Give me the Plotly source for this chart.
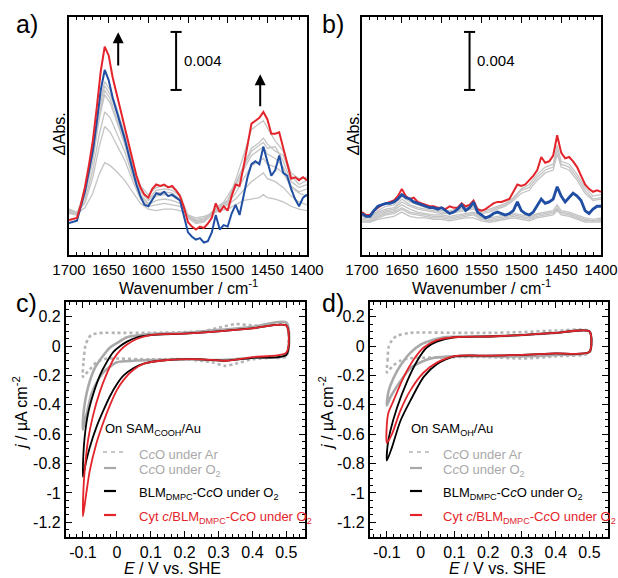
import numpy as np
import plotly.graph_objects as go

# ---------------- DATA ----------------
# Panel a) spectra (Delta Abs in units of 1e-3)
wn_a_fine = list(range(1700, 1399, -5))
red_a = [0.55, 0.6, 0.7, 1.6, 2.8, 4.3, 6.0, 8.3, 10.8, 12.5, 11.9, 10.4, 9.3, 8.2, 7.1, 5.9,
         4.7, 3.6, 2.8, 2.3, 2.1, 2.7, 3.0, 2.9, 3.0, 2.8, 2.9, 2.6, 2.2, 1.4, 0.4, 0.1,
         -0.1, 0.1, 0.0, 0.3, 0.7, 1.7, 1.1, 1.5, 1.2, 2.2, 3.0, 2.9, 4.2, 5.7, 7.2, 7.4,
         7.6, 8.0, 7.5, 6.5, 6.5, 6.6, 5.5, 4.5, 3.4, 3.5, 3.3, 3.5, 3.3]
blue_a = [0.35, 0.4, 0.5, 1.5, 2.5, 3.9, 5.3, 7.3, 9.5, 10.9, 10.2, 9.0, 8.1, 7.2, 6.2, 5.1,
          4.0, 3.0, 2.2, 1.6, 1.5, 2.0, 2.4, 2.3, 2.5, 2.2, 2.3, 2.1, 1.9, 0.8, -0.3, -0.6,
          -0.8, -0.7, -1.0, -0.9, -0.3, 0.9, -0.1, 0.2, 0.1, 1.0, 1.6, 0.9, 2.2, 3.5, 4.4,
          4.6, 4.4, 5.6, 4.6, 3.6, 4.0, 5.0, 3.8, 3.6, 2.7, 2.0, 1.5, 2.1, 2.3]
wn_a_gray = [1700, 1690, 1680, 1670, 1662, 1655, 1648, 1640, 1630, 1620, 1610, 1600, 1590,
             1580, 1570, 1560, 1550, 1540, 1530, 1520, 1510, 1500, 1490, 1480, 1470, 1460,
             1455, 1450, 1440, 1430, 1420, 1410, 1400]
gray_a = [
    [1.1, 0.9, 2.7, 5.5, 8.5, 10.1, 9.5, 8.3, 6.5, 4.4, 2.9, 2.3, 2.8, 2.9, 2.8, 2.3, 0.8, 0.4,
     0.5, 1.0, 1.5, 1.8, 3.3, 5.0, 6.8, 7.2, 7.4, 6.9, 6.0, 5.3, 3.8, 3.4, 3.5],
    [1.2, 1.0, 2.5, 5.2, 8.2, 9.8, 9.2, 8.0, 6.3, 4.3, 2.7, 2.0, 2.6, 2.7, 2.6, 2.2, 0.9, 0.5,
     0.6, 1.1, 1.6, 1.9, 3.0, 4.3, 5.5, 5.9, 6.2, 5.8, 5.3, 5.0, 3.6, 3.0, 3.3],
    [1.3, 1.0, 2.3, 4.9, 7.8, 9.5, 8.9, 7.6, 6.0, 4.0, 2.5, 1.9, 2.4, 2.5, 2.4, 2.0, 0.8, 0.4,
     0.5, 1.0, 1.4, 2.2, 3.1, 4.2, 5.3, 5.7, 5.9, 5.5, 5.6, 4.6, 3.2, 2.8, 3.0],
    [1.0, 0.9, 2.2, 4.6, 7.5, 9.2, 8.6, 7.3, 5.8, 3.8, 2.3, 1.7, 2.2, 2.3, 2.2, 1.9, 0.7, 0.3,
     0.4, 0.9, 1.3, 1.9, 2.8, 4.0, 5.0, 5.4, 5.6, 5.1, 4.8, 4.2, 2.9, 2.5, 2.7],
    [1.2, 1.0, 1.9, 4.0, 6.4, 8.0, 7.6, 6.6, 5.3, 3.6, 2.2, 1.6, 1.9, 2.0, 1.9, 1.7, 0.8, 0.5,
     0.6, 1.0, 1.3, 1.7, 2.4, 3.4, 4.3, 4.6, 4.8, 4.4, 4.2, 3.8, 2.8, 2.4, 2.2],
    [1.3, 1.1, 1.7, 3.5, 5.6, 7.0, 6.6, 5.8, 4.7, 3.3, 2.0, 1.5, 1.6, 1.7, 1.6, 1.5, 0.8, 0.6,
     0.7, 1.0, 1.3, 1.6, 2.0, 2.6, 3.2, 3.6, 3.8, 3.4, 3.2, 2.8, 2.2, 1.8, 1.6],
    [1.1, 1.0, 1.4, 2.4, 3.7, 4.5, 4.3, 3.9, 3.3, 2.5, 1.7, 1.3, 1.2, 1.3, 1.3, 1.2, 0.9, 0.7,
     0.8, 1.0, 1.2, 1.3, 1.6, 1.9, 2.0, 2.1, 2.3, 2.1, 2.0, 1.8, 1.5, 1.3, 1.2],
]

# Panel b) spectra
wn_b_fine = list(range(1700, 1399, -5))
red_b = [1.1, 0.9, 0.9, 1.2, 1.4, 1.6, 1.7, 1.8, 1.9, 2.2, 2.7, 2.2, 2.0, 2.1, 1.8, 1.7, 1.6,
         1.5, 1.5, 1.4, 1.4, 1.3, 1.5, 1.4, 1.4, 1.7, 1.5, 1.6, 1.9, 1.3, 1.2, 1.3, 1.5, 1.7,
         1.8, 1.8, 1.9, 2.0, 2.5, 3.0, 2.9, 3.0, 3.3, 3.6, 4.0, 4.9, 4.5, 4.6, 5.0, 6.4, 5.2,
         4.8, 4.9, 4.6, 4.2, 3.6, 3.0, 2.7, 2.5, 2.6, 2.5]
blue_b = [1.0, 0.8, 0.8, 1.2, 1.5, 1.6, 1.7, 1.7, 1.8, 2.0, 2.3, 2.1, 2.0, 1.8, 1.7, 1.6, 1.5,
          1.4, 1.4, 1.3, 1.4, 1.2, 1.0, 1.1, 1.3, 1.6, 1.2, 1.4, 1.8, 1.1, 0.9, 0.7, 0.8, 1.0,
          1.1, 1.0, 0.9, 1.0, 1.2, 1.8, 1.2, 1.0, 0.9, 1.1, 1.6, 2.0, 1.7, 1.8, 2.0, 2.85, 2.2,
          1.8, 2.1, 2.4, 2.2, 1.9, 1.2, 1.0, 1.3, 1.5, 1.5]
wn_b_gray = [1700, 1690, 1680, 1670, 1660, 1650, 1640, 1630, 1620, 1610, 1600, 1590, 1580,
             1570, 1560, 1550, 1540, 1530, 1520, 1510, 1500, 1490, 1480, 1470, 1460, 1455,
             1450, 1440, 1430, 1420, 1410, 1400]
gray_b = [
    [1.0, 0.8, 1.2, 1.5, 1.6, 2.2, 1.8, 1.6, 1.4, 1.3, 1.2, 1.2, 1.3, 1.4, 1.5, 1.2, 1.3, 1.5,
     1.7, 2.1, 2.7, 3.0, 3.7, 4.2, 4.4, 5.7, 4.6, 4.4, 3.7, 2.8, 2.2, 2.3],
    [0.9, 0.7, 1.1, 1.3, 1.4, 2.0, 1.6, 1.4, 1.3, 1.2, 1.1, 1.1, 1.2, 1.3, 1.4, 1.1, 1.2, 1.4,
     1.6, 2.0, 2.6, 2.8, 3.5, 4.0, 4.2, 5.4, 4.4, 4.2, 3.5, 2.6, 2.0, 2.1],
    [0.8, 0.7, 1.0, 1.2, 1.3, 1.8, 1.5, 1.3, 1.2, 1.1, 1.0, 1.0, 1.1, 1.2, 1.3, 1.0, 1.1, 1.3,
     1.5, 1.9, 2.4, 2.6, 3.3, 3.8, 4.0, 5.1, 4.2, 4.0, 3.3, 2.4, 1.9, 2.0],
    [0.7, 0.6, 0.9, 1.1, 1.2, 1.6, 1.3, 1.1, 1.0, 0.9, 0.9, 0.8, 0.9, 1.0, 1.1, 0.8, 0.7, 0.8,
     0.9, 1.0, 0.9, 0.8, 1.0, 1.1, 1.2, 1.6, 1.2, 1.1, 0.9, 0.7, 0.6, 0.7],
    [0.6, 0.5, 0.8, 1.0, 1.1, 1.4, 1.1, 1.0, 0.9, 0.8, 0.8, 0.7, 0.8, 0.9, 1.0, 0.7, 0.6, 0.7,
     0.8, 0.9, 0.8, 0.7, 0.9, 1.0, 1.1, 1.4, 1.1, 1.0, 0.8, 0.6, 0.5, 0.6],
    [0.5, 0.4, 0.7, 0.9, 1.0, 1.3, 1.0, 0.9, 0.8, 0.7, 0.7, 0.6, 0.7, 0.8, 0.9, 0.6, 0.5, 0.6,
     0.7, 0.8, 0.7, 0.6, 0.8, 0.9, 1.0, 1.3, 1.0, 0.9, 0.7, 0.5, 0.5, 0.5],
    [0.4, 0.4, 0.6, 0.7, 0.8, 1.1, 0.8, 0.7, 0.7, 0.6, 0.6, 0.5, 0.6, 0.7, 0.7, 0.5, 0.4, 0.5,
     0.6, 0.7, 0.6, 0.5, 0.7, 0.8, 0.9, 1.2, 0.9, 0.8, 0.6, 0.4, 0.4, 0.4],
]
scale_bar = 4.0  # 0.004 ΔAbs in units of 1e-3

# Panel c) CVs on SAM-COOH  (E / V, j / µA cm-2), closed loops
E_ar_c = [-0.1, -0.098, -0.093, -0.085, -0.075, -0.06, -0.04, 0.0, 0.1, 0.2, 0.25, 0.3, 0.35,
          0.4, 0.45, 0.5, 0.5, 0.45, 0.4, 0.35, 0.32, 0.28, 0.2, 0.1, 0.0, -0.03, -0.06, -0.08,
          -0.092, -0.1]
j_ar_c = [-0.21, -0.1, 0.0, 0.05, 0.075, 0.085, 0.09, 0.09, 0.09, 0.095, 0.10, 0.125, 0.15,
          0.14, 0.14, 0.15, -0.07, -0.08, -0.09, -0.12, -0.135, -0.11, -0.09, -0.09, -0.085,
          -0.085, -0.11, -0.16, -0.19, -0.21]
E_o2_c = [-0.1, -0.098, -0.09, -0.08, -0.065, -0.045, -0.02, 0.0, 0.03, 0.07, 0.11, 0.2, 0.3,
          0.4, 0.5, 0.5, 0.4, 0.3, 0.2, 0.1, 0.05, 0.0, -0.02, -0.04, -0.06, -0.075, -0.088, -0.1]
j_o2_c = [-0.57, -0.45, -0.33, -0.24, -0.15, -0.08, -0.01, 0.02, 0.06, 0.075, 0.083, 0.09, 0.11,
          0.13, 0.16, -0.06, -0.08, -0.095, -0.09, -0.095, -0.1, -0.11, -0.14, -0.18, -0.25,
          -0.33, -0.45, -0.57]
E_blm_c = [-0.1, -0.099, -0.095, -0.085, -0.07, -0.05, -0.03, -0.01, 0.01, 0.03, 0.06, 0.1, 0.2,
           0.3, 0.4, 0.5, 0.5, 0.4, 0.32, 0.25, 0.15, 0.08, 0.05, 0.02, 0.0, -0.02, -0.04, -0.06,
           -0.08, -0.09, -0.1]
j_blm_c = [-0.89, -0.75, -0.62, -0.46, -0.33, -0.2, -0.11, -0.04, 0.0, 0.03, 0.06, 0.075, 0.085,
           0.1, 0.12, 0.14, -0.06, -0.08, -0.1, -0.09, -0.095, -0.12, -0.15, -0.2, -0.26, -0.34,
           -0.44, -0.55, -0.69, -0.78, -0.89]
E_cyt_c = [-0.1, -0.098, -0.093, -0.085, -0.07, -0.05, -0.03, -0.01, 0.01, 0.03, 0.06, 0.1, 0.2,
           0.3, 0.4, 0.5, 0.5, 0.4, 0.32, 0.25, 0.15, 0.08, 0.05, 0.02, 0.0, -0.02, -0.04, -0.06,
           -0.08, -0.09, -0.1]
j_cyt_c = [-1.16, -0.95, -0.8, -0.64, -0.47, -0.31, -0.19, -0.09, -0.03, 0.01, 0.05, 0.075, 0.085,
           0.1, 0.12, 0.14, -0.045, -0.075, -0.1, -0.09, -0.095, -0.12, -0.16, -0.23, -0.3, -0.4,
           -0.52, -0.66, -0.85, -1.0, -1.16]

# Panel d) CVs on SAM-OH
E_ar_d = [-0.1, -0.098, -0.095, -0.085, -0.07, -0.03, 0.1, 0.2, 0.3, 0.4, 0.5, 0.5, 0.4, 0.3,
          0.2, 0.1, 0.0, -0.03, -0.06, -0.08, -0.092, -0.1]
j_ar_d = [-0.18, -0.1, -0.01, 0.04, 0.07, 0.09, 0.09, 0.09, 0.095, 0.105, 0.1, -0.045, -0.07,
          -0.085, -0.075, -0.075, -0.08, -0.083, -0.1, -0.13, -0.16, -0.18]
E_o2_d = [-0.1, -0.097, -0.09, -0.07, -0.05, -0.03, 0.0, 0.04, 0.07, 0.12, 0.2, 0.3, 0.4, 0.5,
          0.5, 0.4, 0.3, 0.2, 0.1, 0.04, 0.01, -0.03, -0.06, -0.08, -0.09, -0.1]
j_o2_d = [-0.405, -0.33, -0.27, -0.17, -0.1, -0.045, 0.01, 0.045, 0.06, 0.065, 0.065, 0.075,
          0.09, 0.1, -0.04, -0.06, -0.07, -0.07, -0.07, -0.08, -0.1, -0.15, -0.24, -0.31, -0.35,
          -0.405]
E_blm_d = [-0.1, -0.098, -0.09, -0.07, -0.04, -0.01, 0.018, 0.048, 0.1, 0.2, 0.3, 0.4, 0.5, 0.5,
           0.4, 0.3, 0.2, 0.1, 0.048, 0.009, -0.03, -0.06, -0.085, -0.1]
j_blm_d = [-0.78, -0.68, -0.58, -0.42, -0.24, -0.1, -0.01, 0.03, 0.06, 0.065, 0.075, 0.09, 0.1,
           -0.04, -0.05, -0.06, -0.065, -0.07, -0.124, -0.21, -0.37, -0.51, -0.69, -0.78]
E_cyt_d = [-0.1, -0.1, -0.095, -0.08, -0.05, -0.02, 0.009, 0.048, 0.1, 0.2, 0.3, 0.4, 0.5, 0.5,
           0.4, 0.3, 0.2, 0.1, 0.048, 0.009, -0.03, -0.06, -0.085, -0.1]
j_cyt_d = [-0.66, -0.53, -0.45, -0.37, -0.21, -0.09, -0.01, 0.04, 0.06, 0.065, 0.075, 0.09, 0.1,
           -0.04, -0.05, -0.06, -0.065, -0.068, -0.113, -0.18, -0.30, -0.44, -0.6, -0.66]

x_ticks_wn = [1700, 1650, 1600, 1550, 1500, 1450, 1400]
cv_x_ticks = [-0.1, 0.0, 0.1, 0.2, 0.3, 0.4, 0.5]
cv_x_labels = ["-0.1", "0", "0.1", "0.2", "0.3", "0.4", "0.5"]
cv_y_ticks = [-1.2, -1.0, -0.8, -0.6, -0.4, -0.2, 0.0, 0.2]
cv_y_labels = ["-1.2", "-1", "-0.8", "-0.6", "-0.4", "-0.2", "0", "0.2"]

legend_c_title = "On SAM<sub>COOH</sub>/Au"
legend_d_title = "On SAM<sub>OH</sub>/Au"
legend_labels = ["C<i>c</i>O under Ar", "C<i>c</i>O under O<sub>2</sub>",
                 "BLM<sub>DMPC</sub>-C<i>c</i>O under O<sub>2</sub>",
                 "Cyt <i>c</i>/BLM<sub>DMPC</sub>-C<i>c</i>O under O<sub>2</sub>"]

# ---------------- STYLE ----------------
W, H = 618, 578
FONT = "Liberation Sans, Arial, Helvetica, sans-serif"
RED = "#e3242b"
BLUE = "#1f4ea3"
GRAY_SPEC = "#c4c4c4"
GRAY_CV = "#a9a9a9"
GRAY_DOT = "#b4b4b4"


def px(x):
    return x / W


def py(y):
    return 1 - y / H


fig = go.Figure()

# panel a
for g in gray_a:
    fig.add_trace(go.Scatter(x=wn_a_gray, y=g, mode="lines", xaxis="x", yaxis="y",
                             line=dict(color=GRAY_SPEC, width=1.3), showlegend=False))
fig.add_trace(go.Scatter(x=wn_a_fine, y=blue_a, mode="lines", xaxis="x", yaxis="y",
                         line=dict(color=BLUE, width=2), showlegend=False))
fig.add_trace(go.Scatter(x=wn_a_fine, y=red_a, mode="lines", xaxis="x", yaxis="y",
                         line=dict(color=RED, width=2), showlegend=False))
# panel b
for g in gray_b:
    fig.add_trace(go.Scatter(x=wn_b_gray, y=g, mode="lines", xaxis="x2", yaxis="y2",
                             line=dict(color=GRAY_SPEC, width=1.3), showlegend=False))
fig.add_trace(go.Scatter(x=wn_b_fine, y=red_b, mode="lines", xaxis="x2", yaxis="y2",
                         line=dict(color=RED, width=2), showlegend=False))
fig.add_trace(go.Scatter(x=wn_b_fine, y=blue_b, mode="lines", xaxis="x2", yaxis="y2",
                         line=dict(color=BLUE, width=2.8), showlegend=False))

# CV panels
def cv(E, j, ax, color, width, dash="solid"):
    fig.add_trace(go.Scatter(x=E, y=j, mode="lines", xaxis="x" + ax, yaxis="y" + ax,
                             line=dict(color=color, width=width, dash=dash, shape="spline",
                                       smoothing=0.7), showlegend=False))

cv(E_ar_c, j_ar_c, "3", GRAY_DOT, 2.6, "dot")
cv(E_o2_c, j_o2_c, "3", GRAY_CV, 2.6)
cv(E_blm_c, j_blm_c, "3", "black", 1.8)
cv(E_cyt_c, j_cyt_c, "3", RED, 1.8)
cv(E_ar_d, j_ar_d, "4", GRAY_DOT, 2.6, "dot")
cv(E_o2_d, j_o2_d, "4", GRAY_CV, 2.6)
cv(E_blm_d, j_blm_d, "4", "black", 1.8)
cv(E_cyt_d, j_cyt_d, "4", RED, 1.8)

tickfont = dict(family=FONT, size=15, color="black")


def spec_x(domain):
    return dict(domain=domain, range=[1700, 1400], tickmode="array", tickvals=x_ticks_wn,
                showline=True, linecolor="black", linewidth=2.2, mirror="allticks",
                ticks="inside", ticklen=6, tickwidth=1.3, tickcolor="black",
                showgrid=False, zeroline=False, tickfont=tickfont, automargin=False,
                minor=dict(ticks="inside", ticklen=3, tickwidth=1.2, tickcolor="black",
                           tickmode="array", tickvals=list(range(1700, 1399, -10)),
                           showgrid=False))


def spec_y(domain, anchor):
    return dict(domain=domain, range=[-1.86, 14.55], showticklabels=False, ticks="",
                showline=True, linecolor="black", linewidth=2.2, mirror=True,
                showgrid=False, zeroline=True, zerolinecolor="black", zerolinewidth=1,
                anchor=anchor, automargin=False)


def cv_x(domain, anchor):
    return dict(domain=domain, range=[-0.15, 0.555], tickmode="array", tickvals=cv_x_ticks,
                ticktext=cv_x_labels, anchor=anchor, automargin=False,
                showline=True, linecolor="black", linewidth=2.2, mirror="allticks",
                ticks="inside", ticklen=6, tickwidth=1.3, tickcolor="black",
                showgrid=False, zeroline=False, tickfont=dict(family=FONT, size=16, color="black"),
                minor=dict(ticks="inside", ticklen=3, tickwidth=1.2, tickcolor="black",
                           tickmode="array",
                           tickvals=[round(v, 2) for v in np.arange(-0.14, 0.555, 0.02)],
                           showgrid=False))


def cv_y(domain, anchor):
    return dict(domain=domain, range=[-1.3, 0.3], tickmode="array", tickvals=cv_y_ticks,
                ticktext=cv_y_labels, anchor=anchor, automargin=False,
                showline=True, linecolor="black", linewidth=2.2, mirror="allticks",
                ticks="inside", ticklen=6, tickwidth=1.3, tickcolor="black",
                showgrid=False, zeroline=False, tickfont=dict(family=FONT, size=16, color="black"),
                minor=dict(ticks="inside", ticklen=3, tickwidth=1.2, tickcolor="black",
                           tickmode="array",
                           tickvals=[round(v, 2) for v in np.arange(-1.3, 0.31, 0.05)],
                           showgrid=False))


dom_ya = [py(255), py(17)]
dom_yc = [py(537), py(302)]
fig.update_layout(
    width=W, height=H, margin=dict(l=0, r=0, t=0, b=0, autoexpand=False),
    paper_bgcolor="white", plot_bgcolor="white",
    font=dict(family=FONT, color="black"),
    xaxis=dict(spec_x([px(69), px(307)]), anchor="y"),
    yaxis=spec_y(dom_ya, "x"),
    xaxis2=dict(spec_x([px(362), px(601)]), anchor="y2"),
    yaxis2=spec_y(dom_ya, "x2"),
    xaxis3=cv_x([px(66), px(305)], "y3"),
    yaxis3=cv_y(dom_yc, "x3"),
    xaxis4=cv_x([px(370), px(608)], "y4"),
    yaxis4=cv_y(dom_yc, "x4"),
)

shapes = []
annos = []

# scale bars
for xa, ya in (("x", "y"), ("x2", "y2")):
    x0 = 1565
    y0, y1 = 9.52, 9.52 + scale_bar
    shapes.append(dict(type="line", xref=xa, yref=ya, x0=x0, x1=x0, y0=y0, y1=y1,
                       line=dict(color="black", width=2)))
    for yy in (y0, y1):
        shapes.append(dict(type="line", xref=xa, yref=ya, x0=x0 + 7, x1=x0 - 7, y0=yy, y1=yy,
                           line=dict(color="black", width=2)))
    annos.append(dict(xref=xa, yref=ya, x=1558, y=y0 + scale_bar / 2, text="0.004",
                      showarrow=False, xanchor="left", yanchor="middle",
                      font=dict(family=FONT, size=15, color="black")))

# arrows in panel a
for xv, yb, yt in ((1638, 11.1, 13.5), (1459, 8.3, 10.6)):
    annos.append(dict(xref="x", yref="y", axref="x", ayref="y", x=xv, y=yt, ax=xv, ay=yb,
                      text="", showarrow=True, arrowhead=2, arrowsize=1.1, arrowwidth=2,
                      arrowcolor="black"))

# panel labels
for lab, xx, yy in (("a)", 14, 24), ("b)", 320, 24), ("c)", 14, 303), ("d)", 320, 303)):
    annos.append(dict(xref="paper", yref="paper", x=px(xx), y=py(yy), text=lab,
                      showarrow=False, xanchor="left", yanchor="middle",
                      font=dict(family=FONT, size=25, color="black")))

# axis titles
for cx in (188, 481.5):
    annos.append(dict(xref="paper", yref="paper", x=px(cx), y=py(287), showarrow=False,
                      text="Wavenumber / cm<sup>-1</sup>", xanchor="center", yanchor="middle",
                      font=dict(family=FONT, size=16, color="black")))
for cx in (59, 353):
    annos.append(dict(xref="paper", yref="paper", x=px(cx), y=py(134), showarrow=False,
                      text="<i>Δ</i>Abs.", textangle=-90, xanchor="center", yanchor="middle",
                      font=dict(family=FONT, size=16, color="black")))
for cx in (172, 497):
    annos.append(dict(xref="paper", yref="paper", x=px(cx), y=py(568.5), showarrow=False,
                      text="<i>E</i> / V vs. SHE", xanchor="center", yanchor="middle",
                      font=dict(family=FONT, size=16, color="black")))
for cx in (20, 326):
    annos.append(dict(xref="paper", yref="paper", x=px(cx), y=py(413), showarrow=False,
                      text="<i>j</i> / µA cm<sup>-2</sup>", textangle=-90, xanchor="center",
                      yanchor="middle", font=dict(family=FONT, size=16, color="black")))

# legends for CV panels
leg_colors = [GRAY_CV, GRAY_CV, "black", RED]
leg_y = [452, 468, 491, 515]
for title, lx, tx in ((legend_c_title, 103, 137), (legend_d_title, 409, 441)):
    annos.append(dict(xref="paper", yref="paper", x=px(lx), y=py(429), showarrow=False,
                      text=title, xanchor="left", yanchor="middle",
                      font=dict(family=FONT, size=13, color="black")))
    for i, (lab, col, yy) in enumerate(zip(legend_labels, leg_colors, leg_y)):
        annos.append(dict(xref="paper", yref="paper", x=px(tx), y=py(yy + 2), showarrow=False,
                          text=lab, xanchor="left", yanchor="middle",
                          font=dict(family=FONT, size=13, color=col)))
        if i == 0:
            shapes.append(dict(type="line", xref="paper", yref="paper", x0=px(lx), x1=px(lx + 22),
                               y0=py(yy), y1=py(yy),
                               line=dict(color=GRAY_DOT, width=1.5, dash="4px,4px")))
        else:
            shapes.append(dict(type="line", xref="paper", yref="paper", x0=px(lx + 1),
                               x1=px(lx + 13), y0=py(yy), y1=py(yy),
                               line=dict(color=col, width=2.2)))

fig.update_layout(shapes=shapes, annotations=annos)
fig.write_html("out.html", config={"displayModeBar": False},
               post_script="document.body.style.margin='0px';document.body.style.padding='0px';")
